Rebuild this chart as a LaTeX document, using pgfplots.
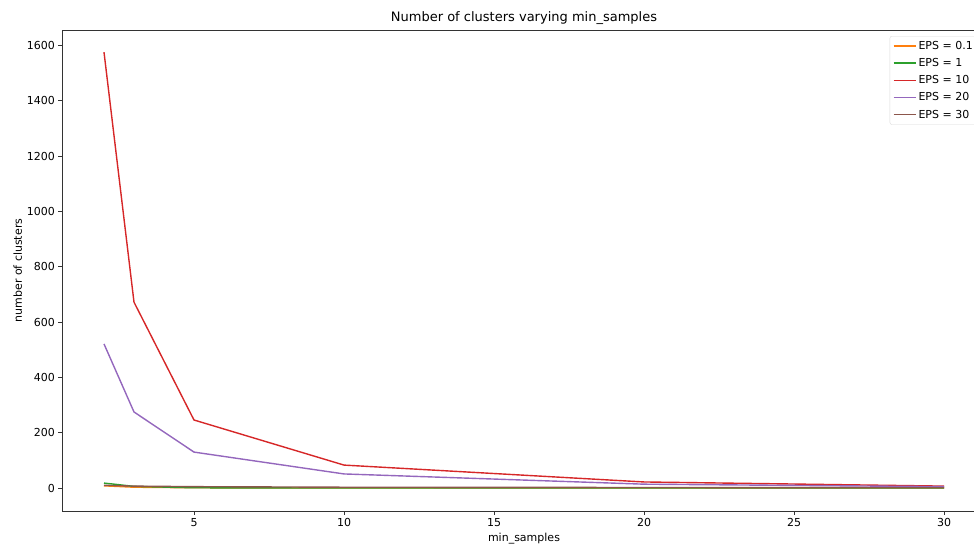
\documentclass[border=0pt]{standalone}
\usepackage{pgfplots}
\pgfplotsset{compat=1.18}
\usepackage{fontspec}
\setmainfont{DejaVu Sans}
\definecolor{mplorange}{HTML}{FF7F0E}
\definecolor{mplgreen}{HTML}{2CA02C}
\definecolor{mplred}{HTML}{D62728}
\definecolor{mplpurple}{HTML}{9467BD}
\definecolor{mplbrown}{HTML}{8C564B}
\begin{document}
\begin{tikzpicture}
\begin{axis}[
  name=ax,
  scale only axis,
  width=924pt, height=481pt,
  xmin=0.6, xmax=31.4,
  ymin=-83, ymax=1656,
  xtick={5,10,15,20,25,30},
  ytick={0,200,400,600,800,1000,1200,1400,1600},
  tick align=outside,
  major tick length=3.5pt,
  xtick pos=bottom, ytick pos=left,
  tick style={black!80, line width=0.8pt},
  axis line style={black!80, line width=0.8pt},
  ticklabel style={font=\fontsize{11}{13}\selectfont},
  /pgf/number format/assume math mode=true,
  /pgf/number format/1000 sep={},
  title={Number of clusters varying min\_samples},
  title style={font=\fontsize{13}{15}\selectfont, yshift=-4pt},
  xlabel={min\_samples},
  ylabel={number of clusters},
  label style={font=\fontsize{11}{13}\selectfont},
  ylabel style={yshift=-2pt},
  legend style={at={(1,1)}, anchor=north east, xshift=-8pt, yshift=-6pt,
    font=\fontsize{11}{13}\selectfont, draw=black!15, rounded corners=2pt,
    row sep=3.5pt, inner sep=3pt},
  legend cell align=left,
  legend image post style={xscale=1.3},
  every axis plot/.append style={line width=1.4pt},
]
\addplot[color=mplorange] coordinates {(2,8) (3,3) (5,1) (10,0) (20,0) (30,0)};
\addlegendentry{EPS = 0.1}
\addplot[color=mplgreen] coordinates {(2,18) (3,6) (5,1) (10,0) (20,0) (30,0)};
\addlegendentry{EPS = 1}
\addplot[color=mplred] coordinates {(2,1576) (3,672) (5,246) (10,83) (20,22) (30,7)};
\addlegendentry{EPS = 10}
\addplot[color=mplpurple] coordinates {(2,521) (3,275) (5,130) (10,51) (20,14) (30,5)};
\addlegendentry{EPS = 20}
\addplot[color=mplbrown] coordinates {(2,10) (3,7) (5,5) (10,3) (20,2) (30,1)};
\addlegendentry{EPS = 30}
\end{axis}
\pgfresetboundingbox
\useasboundingbox ([xshift=-62pt,yshift=-36pt]ax.south west) rectangle ([xshift=912pt,yshift=511pt]ax.south west);
\end{tikzpicture}
\end{document}
